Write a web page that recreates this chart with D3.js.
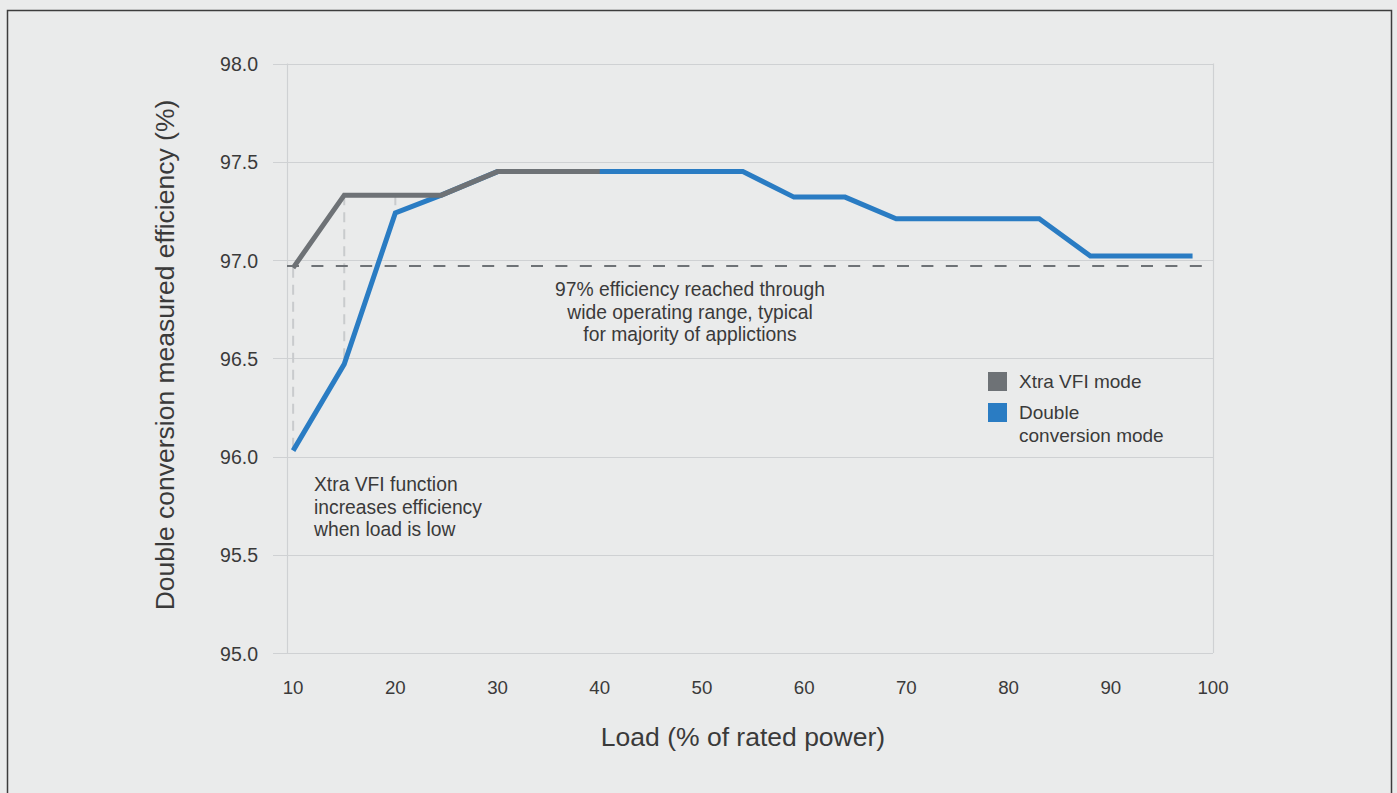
<!DOCTYPE html>
<html><head><meta charset="utf-8">
<script src="https://cdn.jsdelivr.net/npm/d3@7/dist/d3.min.js"></script>
<style>
html,body{margin:0;padding:0;background:#eaebeb;}
svg{display:block;}
text{font-family:"Liberation Sans",Arial,sans-serif;fill:#3a3a3a;}
</style></head>
<body>
<svg id="chart" width="1397" height="793"></svg>
<script>
// ---- data ----
const loadGray = [10, 15, 24.5, 30, 40];
const effGray  = [96.96, 97.33, 97.33, 97.45, 97.45];
const loadBlue = [10, 15, 20, 24.5, 30, 40, 54, 59, 64, 69, 83, 88, 98];
const effBlue  = [96.03, 96.47, 97.24, 97.33, 97.45, 97.45, 97.45, 97.32, 97.32, 97.21, 97.21, 97.02, 97.02];
const xTicks = [10, 20, 30, 40, 50, 60, 70, 80, 90, 100];
const yTicks = [95.0, 95.5, 96.0, 96.5, 97.0, 97.5, 98.0];
const thresholdValue = 96.97;
const guideLoads = [10, 15, 20];
const guideTop = [96.96, 97.33, 97.33];
const guideBottom = [96.03, 96.47, 97.24];
const seriesNames = ["Xtra VFI mode", "Double\nconversion mode"];
const seriesColors = ["#6e7276", "#2a7cc3"];
const note1 = ["97% efficiency reached through", "wide operating range, typical", "for majority of applictions"];
const note2 = ["Xtra VFI function", "increases efficiency", "when load is low"];
const xTitle = "Load (% of rated power)";
const yTitle = "Double conversion measured efficiency (%)";

const svg = d3.select("#chart");
const W = 1397, H = 793;
svg.append("rect").attr("width", W).attr("height", H).attr("fill", "#eaebeb");
svg.append("rect").attr("x", 7.5).attr("y", 10.5).attr("width", 1384).attr("height", 820)
  .attr("fill", "none").attr("stroke", "#3d3d3d").attr("stroke-width", 1.5);

const x = d3.scaleLinear().domain([9.4, 100]).range([287, 1213]);
const y = d3.scaleLinear().domain([95, 98]).range([653, 63.5]);

// grid
const g = svg.append("g");
g.selectAll("line.h").data(yTicks).join("line")
  .attr("x1", 273).attr("x2", x(100))
  .attr("y1", d => Math.round(y(d)) + 0.5).attr("y2", d => Math.round(y(d)) + 0.5)
  .attr("stroke", "#cfd1d3").attr("stroke-width", 1.2);
[9.4, 100].forEach(v => {
  g.append("line").attr("x1", Math.round(x(v)) + 0.5).attr("x2", Math.round(x(v)) + 0.5)
    .attr("y1", y(98)).attr("y2", y(95)).attr("stroke", "#cfd1d3").attr("stroke-width", 1.2);
});

// y labels
svg.selectAll("text.yl").data(yTicks).join("text")
  .attr("x", 258).attr("y", d => y(d) + 7.5)
  .attr("text-anchor", "end").attr("font-size", 19.5)
  .text(d => d3.format(".1f")(d));
// x labels
svg.selectAll("text.xl").data(xTicks).join("text")
  .attr("x", d => x(d)).attr("y", 694)
  .attr("text-anchor", "middle").attr("font-size", 18.7)
  .text(d => d);

// axis titles
svg.append("text").attr("x", 743).attr("y", 746).attr("text-anchor", "middle")
  .attr("font-size", 26.5).text(xTitle);
svg.append("text").attr("transform", "translate(174,355) rotate(-90)").attr("text-anchor", "middle")
  .attr("font-size", 26.5).text(yTitle);

// vertical guide dashes
svg.selectAll("line.guide").data(guideLoads).join("line")
  .attr("x1", d => x(d)).attr("x2", d => x(d))
  .attr("y1", (d, i) => y(guideTop[i])).attr("y2", (d, i) => y(guideBottom[i]))
  .attr("stroke", "#c9cbcd").attr("stroke-width", 2).attr("stroke-dasharray", "10,7");

// threshold dashed line
svg.append("line").attr("x1", x(9.4)).attr("x2", x(100))
  .attr("y1", y(thresholdValue)).attr("y2", y(thresholdValue))
  .attr("stroke", "#6e7276").attr("stroke-width", 2).attr("stroke-dasharray", "12,12.4");

const line = d3.line().x(d => x(d[0])).y(d => y(d[1]));
svg.append("path").datum(loadBlue.map((l, i) => [l, effBlue[i]]))
  .attr("d", line).attr("fill", "none").attr("stroke", seriesColors[1]).attr("stroke-width", 5);
svg.append("path").datum(loadGray.map((l, i) => [l, effGray[i]]))
  .attr("d", line).attr("fill", "none").attr("stroke", seriesColors[0]).attr("stroke-width", 5);

// annotations
const n1 = svg.append("text").attr("text-anchor", "middle").attr("font-size", 19.3);
note1.forEach((t, i) => n1.append("tspan").attr("x", 690).attr("y", 296 + i * 22.5).text(t));
const n2 = svg.append("text").attr("text-anchor", "start").attr("font-size", 19.3);
note2.forEach((t, i) => n2.append("tspan").attr("x", 314).attr("y", 491 + i * 22.5).text(t));

// legend
const legY = [372, 403];
seriesNames.forEach((name, i) => {
  svg.append("rect").attr("x", 988).attr("y", legY[i]).attr("width", 19).attr("height", 19)
    .attr("fill", seriesColors[i]);
  const t = svg.append("text").attr("font-size", 19);
  name.split("\n").forEach((s, j) => t.append("tspan").attr("x", 1019).attr("y", legY[i] + 16 + j * 22.5).text(s));
});
</script>
</body></html>
